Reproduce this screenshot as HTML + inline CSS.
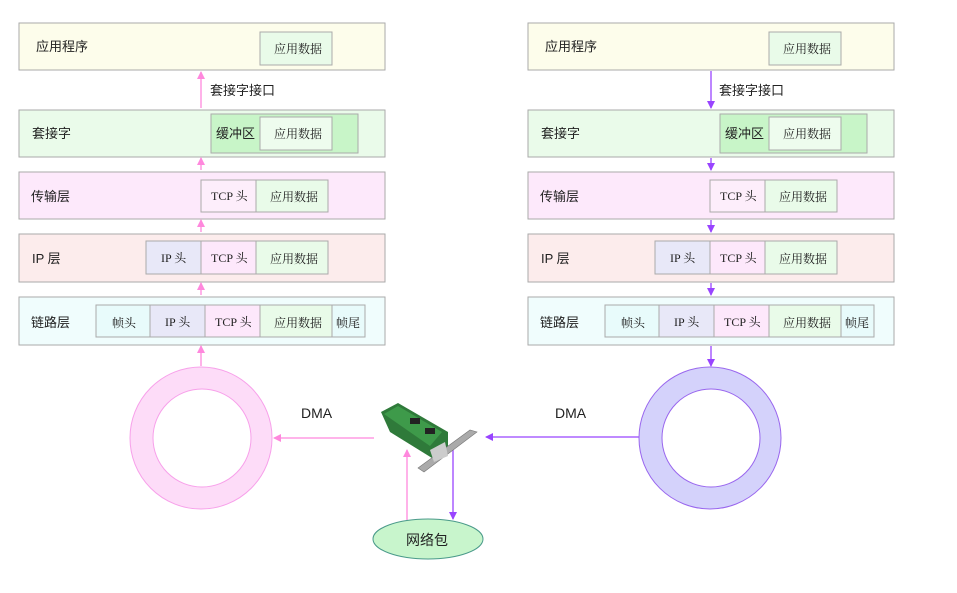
<!DOCTYPE html>
<html><head><meta charset="utf-8"><style>
html,body{margin:0;padding:0;background:#fff;}
svg text{font-family:"Liberation Sans","Noto Sans CJK SC",sans-serif;}
.s{font-family:"Liberation Serif","Noto Serif CJK SC",serif;}
</style></head><body>
<svg width="957" height="588" viewBox="0 0 957 588" xmlns="http://www.w3.org/2000/svg">
<defs>
<marker id="ap" markerWidth="8" markerHeight="8" refX="7" refY="4" orient="auto" markerUnits="userSpaceOnUse"><path d="M0,0 L8,4 L0,8 z" fill="#ff88dd"/></marker>
<marker id="av" markerWidth="8" markerHeight="8" refX="7" refY="4" orient="auto" markerUnits="userSpaceOnUse"><path d="M0,0 L8,4 L0,8 z" fill="#9944ff"/></marker>
<g id="stack" font-size="12" stroke="#aaa">
<rect x="19" y="23" width="366" height="47" fill="#fdfdeb"/>
<rect x="260" y="32" width="72" height="33" fill="#e9fbe9"/>
<rect x="19" y="110" width="366" height="47" fill="#eafbea"/>
<rect x="211" y="114" width="147" height="39" fill="#c8f5c8"/>
<rect x="260" y="117" width="72" height="33" fill="#eefcee"/>
<rect x="19" y="172" width="366" height="47" fill="#fde9fb"/>
<rect x="201" y="180" width="55" height="32" fill="#fdeefb"/>
<rect x="256" y="180" width="72" height="32" fill="#e9fbe9"/>
<rect x="19" y="234" width="366" height="48" fill="#fcecec"/>
<rect x="146" y="241" width="55" height="33" fill="#e8e8f8"/>
<rect x="201" y="241" width="55" height="33" fill="#fde8fb"/>
<rect x="256" y="241" width="72" height="33" fill="#e9fbe9"/>
<rect x="19" y="297" width="366" height="48" fill="#f0fdfd"/>
<rect x="96" y="305" width="54" height="32" fill="#e8fbfb"/>
<rect x="150" y="305" width="55" height="32" fill="#e8e8f8"/>
<rect x="205" y="305" width="55" height="32" fill="#fde8fb"/>
<rect x="260" y="305" width="72" height="32" fill="#e9fbe9"/>
<rect x="332" y="305" width="33" height="32" fill="#e8fbfb"/>
<g stroke="none" fill="#222">
<text x="36" y="51" font-size="13">应用程序</text>
<text x="274" y="53" class="s">应用数据</text>
<text x="32" y="138" font-size="13">套接字</text>
<text x="216" y="138" font-size="13">缓冲区</text>
<text x="274" y="138" class="s">应用数据</text>
<text x="31" y="201" font-size="13">传输层</text>
<text x="211" y="200" class="s">TCP 头</text>
<text x="270" y="201" class="s">应用数据</text>
<text x="32" y="263" font-size="13">IP 层</text>
<text x="161" y="262" class="s">IP 头</text>
<text x="211" y="262" class="s">TCP 头</text>
<text x="270" y="263" class="s">应用数据</text>
<text x="31" y="327" font-size="13">链路层</text>
<text x="112" y="327" class="s">帧头</text>
<text x="165" y="326" class="s">IP 头</text>
<text x="215" y="326" class="s">TCP 头</text>
<text x="274" y="327" class="s">应用数据</text>
<text x="336" y="327" class="s">帧尾</text>
<text x="210" y="95" font-size="13">套接字接口</text>
</g>
</g>
</defs>
<use href="#stack"/>
<use href="#stack" x="509"/>
<!-- left arrows up -->
<g stroke="#ff88dd" stroke-width="1.3">
<line x1="201" y1="108" x2="201" y2="72" marker-end="url(#ap)"/>
<line x1="201" y1="170" x2="201" y2="158" marker-end="url(#ap)"/>
<line x1="201" y1="232" x2="201" y2="220" marker-end="url(#ap)"/>
<line x1="201" y1="295" x2="201" y2="283" marker-end="url(#ap)"/>
<line x1="201" y1="366" x2="201" y2="346" marker-end="url(#ap)"/>
<line x1="374" y1="438" x2="274" y2="438" marker-end="url(#ap)"/>
<line x1="407" y1="520" x2="407" y2="450" marker-end="url(#ap)"/>
</g>
<g stroke="#9944ff" stroke-width="1.3">
<line x1="711" y1="71" x2="711" y2="108" marker-end="url(#av)"/>
<line x1="711" y1="158" x2="711" y2="170" marker-end="url(#av)"/>
<line x1="711" y1="220" x2="711" y2="232" marker-end="url(#av)"/>
<line x1="711" y1="283" x2="711" y2="295" marker-end="url(#av)"/>
<line x1="711" y1="346" x2="711" y2="366" marker-end="url(#av)"/>
<line x1="639" y1="437" x2="486" y2="437" marker-end="url(#av)"/>
<line x1="453" y1="447" x2="453" y2="519" marker-end="url(#av)"/>
</g>
<!-- rings -->
<path d="M130,438 a71,71 0 1,0 142,0 a71,71 0 1,0 -142,0 Z M153,438 a49,49 0 1,1 98,0 a49,49 0 1,1 -98,0 Z" fill="#fddcf8" fill-rule="evenodd" stroke="#f7a0ea"/>
<path d="M639,438 a71,71 0 1,0 142,0 a71,71 0 1,0 -142,0 Z M662,438 a49,49 0 1,1 98,0 a49,49 0 1,1 -98,0 Z" fill="#d4d2fb" fill-rule="evenodd" stroke="#9966ee"/>
<text x="301" y="418" font-size="14" fill="#222">DMA</text>
<text x="555" y="418" font-size="14" fill="#222">DMA</text>
<!-- NIC -->
<polygon points="381,412 398,403 448,432 448,448 432,458 390,432" fill="#2f7a3a"/>
<polygon points="384,414 398,406 442,432 430,446" fill="#3e9a4a"/>
<rect x="410" y="418" width="10" height="6" fill="#222"/>
<rect x="425" y="428" width="10" height="6" fill="#222"/>
<polygon points="418,468 470,430 477,432 424,472" fill="#aaa" stroke="#777" stroke-width="0.6"/>
<polygon points="430,450 445,442 448,456 434,462" fill="#ccc"/>
<ellipse cx="428" cy="539" rx="55" ry="20" fill="#c8f5cc" stroke="#4a9a8a"/>
<text x="406" y="545" font-size="14" fill="#222">网络包</text>
</svg>
</body></html>
